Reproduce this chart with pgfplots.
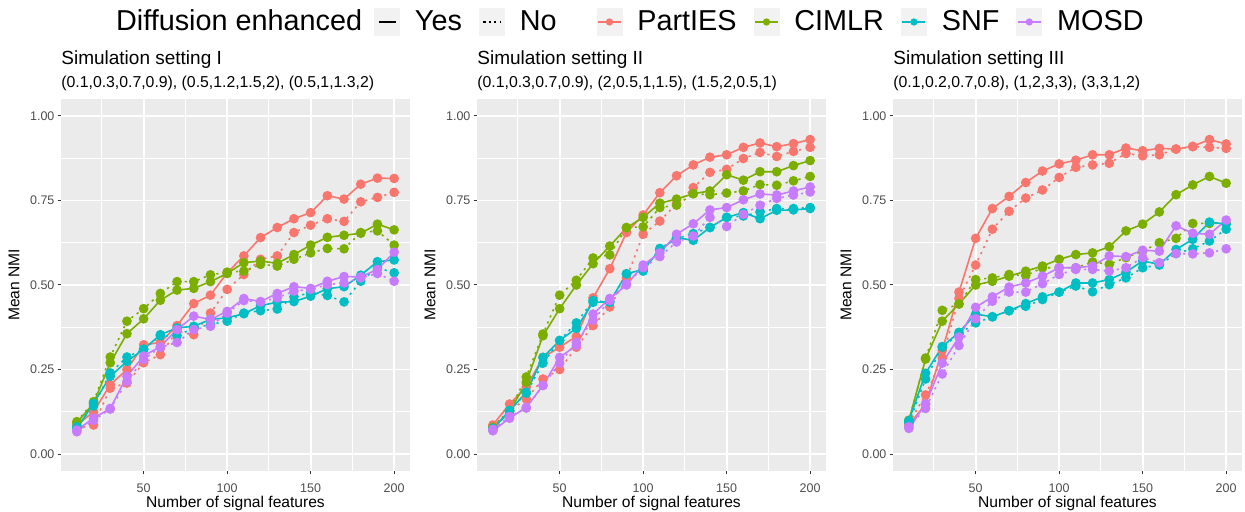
\documentclass[border=0pt]{standalone}
\usepackage{fontspec}
\setmainfont{Liberation Sans}
\usepackage{pgfplots}
\pgfplotsset{compat=1.18}
\usepackage{pgfplotstable}

\definecolor{cPart}{HTML}{F8766D}
\definecolor{cCim}{HTML}{7CAE00}
\definecolor{cSnf}{HTML}{00BFC4}
\definecolor{cMosd}{HTML}{C77CFF}
\definecolor{panelbg}{HTML}{EBEBEB}
\definecolor{keybg}{HTML}{F2F2F2}
\definecolor{gray30}{HTML}{4D4D4D}
\definecolor{gray20}{HTML}{333333}

% columns: p = PartIES, c = CIMLR, s = SNF, m = MOSD; y = diffusion enhanced, n = not
\pgfplotstableread{
x   py    pn    cy    cn    sy    sn    my    mn
10  0.086 0.076 0.093 0.096 0.076 0.081 0.071 0.066
20  0.125 0.086 0.150 0.155 0.150 0.142 0.106 0.100
30  0.205 0.195 0.270 0.287 0.230 0.240 0.135 0.133
40  0.250 0.210 0.356 0.393 0.274 0.287 0.230 0.215
50  0.323 0.270 0.400 0.430 0.310 0.310 0.290 0.280
60  0.330 0.294 0.455 0.475 0.353 0.350 0.318 0.316
70  0.380 0.363 0.485 0.510 0.373 0.350 0.368 0.330
80  0.445 0.353 0.490 0.510 0.378 0.373 0.408 0.368
90  0.470 0.417 0.510 0.530 0.398 0.383 0.398 0.378
100 0.536 0.487 0.534 0.538 0.403 0.393 0.422 0.417
110 0.586 0.531 0.566 0.541 0.415 0.417 0.460 0.454
120 0.640 0.576 0.571 0.561 0.439 0.424 0.451 0.450
130 0.670 0.586 0.564 0.556 0.449 0.429 0.475 0.462
140 0.696 0.655 0.590 0.576 0.451 0.465 0.495 0.482
150 0.714 0.677 0.618 0.595 0.467 0.477 0.490 0.487
160 0.764 0.696 0.641 0.608 0.489 0.469 0.511 0.501
170 0.754 0.688 0.647 0.607 0.495 0.450 0.525 0.506
180 0.798 0.746 0.653 0.655 0.529 0.511 0.524 0.521
190 0.816 0.759 0.680 0.660 0.569 0.551 0.546 0.534
200 0.815 0.774 0.663 0.618 0.574 0.536 0.597 0.511
}\dataA

\pgfplotstableread{
x   py    pn    cy    cn    sy    sn    my    mn
10  0.086 0.081 0.076 0.079 0.076 0.071 0.069 0.073
20  0.148 0.128 0.126 0.128 0.128 0.129 0.106 0.111
30  0.198 0.163 0.212 0.228 0.183 0.180 0.138 0.136
40  0.286 0.222 0.350 0.355 0.286 0.269 0.203 0.203
50  0.316 0.250 0.430 0.470 0.336 0.336 0.286 0.269
60  0.348 0.316 0.500 0.514 0.372 0.388 0.321 0.330
70  0.462 0.380 0.563 0.580 0.449 0.454 0.414 0.396
80  0.548 0.435 0.615 0.589 0.450 0.449 0.460 0.454
90  0.655 0.520 0.669 0.670 0.533 0.533 0.500 0.503
100 0.707 0.650 0.700 0.672 0.546 0.541 0.559 0.551
110 0.773 0.689 0.742 0.729 0.603 0.608 0.595 0.584
120 0.823 0.740 0.754 0.736 0.640 0.637 0.650 0.627
130 0.855 0.788 0.770 0.770 0.632 0.652 0.681 0.645
140 0.878 0.833 0.778 0.767 0.670 0.670 0.722 0.700
150 0.885 0.842 0.826 0.772 0.700 0.700 0.729 0.673
160 0.907 0.874 0.810 0.778 0.714 0.704 0.752 0.709
170 0.920 0.892 0.835 0.797 0.696 0.716 0.769 0.736
180 0.909 0.880 0.835 0.795 0.721 0.726 0.766 0.756
190 0.918 0.895 0.853 0.808 0.722 0.726 0.778 0.766
200 0.930 0.907 0.868 0.821 0.726 0.729 0.790 0.775
}\dataB

\pgfplotstableread{
x   py    pn    cy    cn    sy    sn    my    mn
10  0.086 0.091 0.100 0.098 0.099 0.093 0.076 0.081
20  0.148 0.175 0.281 0.284 0.239 0.222 0.148 0.135
30  0.307 0.284 0.393 0.425 0.318 0.316 0.269 0.237
40  0.479 0.460 0.444 0.444 0.360 0.355 0.346 0.321
50  0.638 0.559 0.500 0.516 0.414 0.388 0.434 0.400
60  0.726 0.665 0.511 0.521 0.406 0.406 0.465 0.452
70  0.762 0.718 0.526 0.531 0.424 0.424 0.494 0.479
80  0.803 0.757 0.541 0.528 0.445 0.437 0.506 0.479
90  0.837 0.781 0.556 0.551 0.465 0.457 0.526 0.504
100 0.858 0.818 0.576 0.551 0.479 0.479 0.551 0.531
110 0.869 0.848 0.590 0.551 0.506 0.497 0.551 0.546
120 0.885 0.855 0.595 0.568 0.506 0.480 0.556 0.546
130 0.885 0.860 0.613 0.561 0.516 0.501 0.586 0.541
140 0.905 0.889 0.660 0.581 0.538 0.521 0.584 0.551
150 0.897 0.882 0.680 0.600 0.571 0.551 0.603 0.581
160 0.904 0.885 0.716 0.625 0.561 0.559 0.600 0.566
170 0.902 0.902 0.767 0.638 0.605 0.593 0.675 0.593
180 0.910 0.909 0.796 0.682 0.635 0.607 0.653 0.592
190 0.930 0.907 0.821 0.682 0.686 0.630 0.650 0.595
200 0.917 0.904 0.801 0.682 0.680 0.665 0.692 0.607
}\dataC

\tikzset{
  ttl/.style={anchor=base west, inner sep=0pt, font=\fontsize{9.5}{11}\selectfont},
  subttl/.style={anchor=base west, inner sep=0pt, font=\fontsize{7.9}{9}\selectfont},
}

\pgfplotsset{
  panel/.style={
    scale only axis, width=174.5pt, height=186pt,
    xmin=0.5, xmax=209.5, ymin=-0.05, ymax=1.05,
    axis background/.style={fill=panelbg},
    axis line style={draw=none},
    xtick={50,100,150,200}, minor xtick={25,75,125,175},
    ytick={0,0.25,0.5,0.75,1}, minor ytick={0.125,0.375,0.625,0.875},
    grid=both,
    major grid style={white, line width=0.9pt},
    minor grid style={white, line width=0.45pt},
    tick align=outside, tick pos=left,
    major tick length=1.75pt, minor tick length=0pt,
    tick style={gray20, line width=0.5pt},
    ticklabel style={font=\fontsize{6.25}{7}\selectfont, text=gray30},
    xticklabel style={yshift=-1pt},
    /pgf/number format/assume math mode=true,
    yticklabel style={xshift=2pt, /pgf/number format/.cd, fixed, fixed zerofill, precision=2},
    xlabel={Number of signal features}, ylabel={Mean NMI},
    label style={font=\fontsize{7.8}{9}\selectfont},
    xlabel style={at={(axis description cs:0.5,-0.0968)}, anchor=base},
    ylabel style={at={(axis description cs:-0.1195,0.5)}, anchor=base},
    clip=false,
  },
  yes/.style={solid, line width=0.8pt, mark=*, mark size=2pt},
  no/.style={dash pattern=on 1.1pt off 2.2pt, line width=0.8pt, mark=*, mark size=2pt, mark options={solid}},
  keyyes/.style={legend image code/.code={
    \fill[keybg] (0pt,-6.75pt) rectangle (12.5pt,6.75pt);
    \draw[black, line width=0.8pt] (2pt,0pt) -- (10.5pt,0pt);}},
  keyno/.style={legend image code/.code={
    \fill[keybg] (0pt,-6.75pt) rectangle (12.5pt,6.75pt);
    \draw[black, line width=0.8pt, dash pattern=on 1.1pt off 1.6pt] (2pt,0pt) -- (10.5pt,0pt);}},
  keyP/.style={legend image code/.code={
    \fill[keybg] (0pt,-6.75pt) rectangle (12.5pt,6.75pt);
    \draw[cPart, line width=0.8pt] (0.5pt,0pt) -- (12pt,0pt);
    \fill[cPart] (6.25pt,0pt) circle (1.6pt);}},
  keyC/.style={legend image code/.code={
    \fill[keybg] (0pt,-6.75pt) rectangle (12.5pt,6.75pt);
    \draw[cCim, line width=0.8pt] (0.5pt,0pt) -- (12pt,0pt);
    \fill[cCim] (6.25pt,0pt) circle (1.6pt);}},
  keyS/.style={legend image code/.code={
    \fill[keybg] (0pt,-6.75pt) rectangle (12.5pt,6.75pt);
    \draw[cSnf, line width=0.8pt] (0.5pt,0pt) -- (12pt,0pt);
    \fill[cSnf] (6.25pt,0pt) circle (1.6pt);}},
  keyM/.style={legend image code/.code={
    \fill[keybg] (0pt,-6.75pt) rectangle (12.5pt,6.75pt);
    \draw[cMosd, line width=0.8pt] (0.5pt,0pt) -- (12pt,0pt);
    \fill[cMosd] (6.25pt,0pt) circle (1.6pt);}},
}

\newcommand{\panelplots}[1]{
  \addplot[forget plot, cPart, yes] table[x=x, y=py] {#1};
  \addplot[forget plot, cPart, no]  table[x=x, y=pn] {#1};
  \addplot[forget plot, cCim, yes]  table[x=x, y=cy] {#1};
  \addplot[forget plot, cCim, no]   table[x=x, y=cn] {#1};
  \addplot[forget plot, cSnf, yes]  table[x=x, y=sy] {#1};
  \addplot[forget plot, cSnf, no]   table[x=x, y=sn] {#1};
  \addplot[forget plot, cMosd, yes] table[x=x, y=my] {#1};
  \addplot[forget plot, cMosd, no]  table[x=x, y=mn] {#1};
}

\begin{document}
\begin{tikzpicture}
\path[use as bounding box] (0pt,0pt) rectangle (622.5pt,256pt);

\begin{axis}[panel, at={(30.5pt,20.5pt)}, anchor=south west,
  legend style={at={(axis description cs:0.1138,1.207)}, anchor=west,
    draw=none, fill=none, legend columns=-1,
    font=\fontsize{14.4}{16}\selectfont, inner sep=0pt,
    /tikz/every odd column/.append style={column sep=5.5pt},
    /tikz/every even column/.append style={column sep=6.5pt}},
  legend cell align=left]
\addlegendimage{empty legend}\addlegendentry{Diffusion enhanced\hspace*{-2.5pt}}
\addlegendimage{keyyes}\addlegendentry{Yes}
\addlegendimage{keyno}\addlegendentry{No\hspace*{11.5pt}}
\addlegendimage{keyP}\addlegendentry{PartIES}
\addlegendimage{keyC}\addlegendentry{CIMLR}
\addlegendimage{keyS}\addlegendentry{SNF}
\addlegendimage{keyM}\addlegendentry{MOSD}
\panelplots{\dataA}
\node[ttl] at (axis description cs:0,1.0914) {Simulation setting I};
\node[subttl] at (axis description cs:0,1.0309) {(0.1,0.3,0.7,0.9), (0.5,1.2,1.5,2), (0.5,1,1.3,2)};
\end{axis}

\begin{axis}[panel, at={(238.5pt,20.5pt)}, anchor=south west]
\panelplots{\dataB}
\node[ttl] at (axis description cs:0,1.0914) {Simulation setting II};
\node[subttl] at (axis description cs:0,1.0309) {(0.1,0.3,0.7,0.9), (2,0.5,1,1.5), (1.5,2,0.5,1)};
\end{axis}

\begin{axis}[panel, at={(446.5pt,20.5pt)}, anchor=south west]
\panelplots{\dataC}
\node[ttl] at (axis description cs:0,1.0914) {Simulation setting III};
\node[subttl] at (axis description cs:0,1.0309) {(0.1,0.2,0.7,0.8), (1,2,3,3), (3,3,1,2)};
\end{axis}
\end{tikzpicture}
\end{document}
